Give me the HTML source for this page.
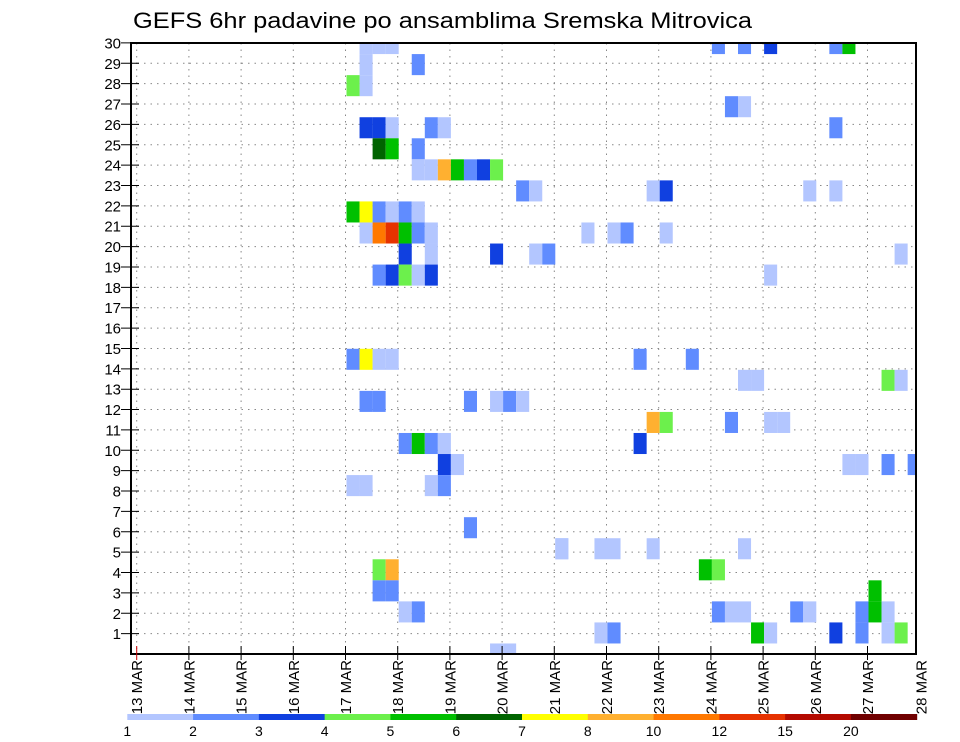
<!DOCTYPE html>
<html><head><meta charset="utf-8"><style>
html,body{margin:0;padding:0;background:#fff;}
svg{display:block;font-family:"Liberation Sans",sans-serif;}
</style></head><body>
<svg id="chart" width="960" height="742" viewBox="0 0 960 742">
<text x="133" y="28" font-size="22" textLength="619" lengthAdjust="spacingAndGlyphs" fill="#000">GEFS 6hr padavine po ansamblima Sremska Mitrovica</text>
<g id="grid"></g>
<g id="cells"></g>
<g id="axes"></g>
<g id="colorbar"></g>
</svg>
<script>
// day tick labels
const dayLabels = ["13 MAR","14 MAR","15 MAR","16 MAR","17 MAR","18 MAR","19 MAR","20 MAR","21 MAR","22 MAR","23 MAR","24 MAR","25 MAR","26 MAR","27 MAR","28 MAR"];
const memberLabels = [1,2,3,4,5,6,7,8,9,10,11,12,13,14,15,16,17,18,19,20,21,22,23,24,25,26,27,28,29,30];
// colour scale
const levels = [1,2,3,4,5,6,7,8,10,12,15,20];
const levelColors = ["#b3c6ff","#608cff","#1040e0","#6cf04c","#00c000","#006400","#ffff00","#ffb030","#ff7800","#e63200","#b40a00","#700000"];
// cells: row index (0..29), 6-hour step from 13 MAR 00z, precipitation value (mm)
const cellRow = [
29,29,29,28,27,28,27,
25,25,25,25,25,24,24,24,
23,23,23,23,23,23,23,
22,22,
21,21,21,21,21,21,
20,20,20,20,20,20,
19,19,19,19,19,
18,18,18,18,18,
14,14,14,14,
12,12,12,12,12,12,
10,10,10,10,
9,9,
8,8,8,8,
6,5,
4,4,3,3,2,2,0,0,
29,29,29,29,29,
26,26,25,
22,22,22,22,
20,20,20,20,
19,18,
14,14,13,13,13,13,
11,11,11,11,11,10,
9,9,9,9,
5,5,5,5,5,
4,4,3,
2,2,2,2,2,2,2,2,
1,1,1,1,1,1,1,1
];
const cellStep = [
17,18,19,17,17,21,16,
17,18,19,22,23,18,19,21,
21,22,23,24,25,26,27,
29,30,
16,17,18,19,20,21,
17,18,19,20,21,22,
20,22,27,30,31,
18,19,20,21,22,
16,17,18,19,
17,18,25,27,28,29,
20,21,22,23,
23,24,
16,17,22,23,
25,32,
18,19,18,19,20,21,27,28,
44,46,48,53,54,
45,46,53,
39,40,51,53,
34,36,37,40,
58,48,
38,42,46,47,57,58,
39,40,45,48,49,38,
54,55,57,59,
35,36,39,46,32,
43,44,56,
44,45,46,50,51,55,56,57,
35,36,47,48,53,55,57,58
];
const cellValue = [
1.5,1.5,1.5,1.5,1.5,2.5,4.5,
3.5,3.5,1.5,2.5,1.5,6.5,5.5,2.5,
1.5,1.5,9,5.5,2.5,3.5,4.5,
2.5,1.5,
5.5,7.5,2.5,1.5,2.5,1.5,
1.5,11,13,5.5,2.5,1.5,
3.5,1.5,3.5,1.5,2.5,
2.5,3.5,4.5,1.5,3.5,
2.5,7.5,1.5,1.5,
2.5,2.5,2.5,1.5,2.5,1.5,
2.5,5.5,2.5,1.5,
3.5,1.5,
1.5,1.5,1.5,2.5,
2.5,1.5,
4.5,9,2.5,2.5,1.5,2.5,1.5,1.5,
2.5,2.5,3.5,2.5,5.5,
2.5,1.5,2.5,
1.5,3.5,1.5,1.5,
1.5,1.5,2.5,1.5,
1.5,1.5,
2.5,2.5,1.5,1.5,4.5,1.5,
9,4.5,2.5,1.5,1.5,3.5,
1.5,1.5,2.5,2.5,
1.5,1.5,1.5,1.5,1.5,
5.5,4.5,5.5,
2.5,1.5,1.5,2.5,1.5,2.5,5.5,1.5,
1.5,2.5,5.5,1.5,3.5,2.5,1.5,4.5
];

const NS="http://www.w3.org/2000/svg";
const PL=131, PR=916, PT=43, PB=654;
const X0=136.7, DAY=52.2;
function xDay(d){return X0+DAY*d;}
function xStep(s){return X0+DAY*s/4+1;}
function yRowCenter(k){return PB-21.05*k;}
function yLabel(m){return PB-20.37*m;}
function colorFor(v){let c=levelColors[0];for(let i=0;i<levels.length;i++){if(v>=levels[i])c=levelColors[i];}return c;}
function mk(tag,attrs,parent){const e=document.createElementNS(NS,tag);for(const k in attrs)e.setAttribute(k,attrs[k]);parent.appendChild(e);return e;}

const grid=document.getElementById('grid');
const cells=document.getElementById('cells');
const axes=document.getElementById('axes');
const cbar=document.getElementById('colorbar');

const defs=mk('defs',{},document.getElementById('chart'));
const cp=mk('clipPath',{id:'plotclip'},defs);
mk('rect',{x:PL,y:PT,width:PR-PL,height:PB-PT},cp);
cells.setAttribute('clip-path','url(#plotclip)');

memberLabels.forEach(m=>{
  const y=yLabel(m);
  const l=mk('line',{x1:PL,x2:PR,y1:y,y2:y,stroke:'#888','stroke-width':1,'stroke-dasharray':'1.5,5'},grid);
  
  
});
dayLabels.forEach((d,i)=>{
  const x=xDay(i); if(x>PR)return;
  const l=mk('line',{x1:x,x2:x,y1:PT,y2:PB,stroke:'#888','stroke-width':1,'stroke-dasharray':'1.5,5'},grid);
  
  
});

for(let i=0;i<cellRow.length;i++){
  const x1=xStep(cellStep[i]), x2=xStep(cellStep[i]+1);
  const yc=yRowCenter(cellRow[i]);
  const r=mk('rect',{x:x1,y:yc-10.525,width:x2-x1,height:21.05,fill:colorFor(cellValue[i])},cells);
  
  
}

const fr=mk('rect',{x:PL,y:PT,width:PR-PL,height:PB-PT,fill:'none',stroke:'#000','stroke-width':2},axes);



memberLabels.forEach(m=>{
  const y=yLabel(m);
  const t=mk('line',{x1:PL-10,x2:PL+8,y1:y,y2:y,stroke:'#000','stroke-width':1},axes);
  
  
  const tx=mk('text',{x:PL-10,y:y+5.5,'font-size':15,'text-anchor':'end',fill:'#000'},axes);
  tx.textContent=m;
  
  
});
dayLabels.forEach((d,i)=>{
  let x=xDay(i);
  if(x<=PR){
    const t=mk('line',{x1:x,x2:x,y1:PB-8,y2:PB+6,stroke:i==0?'#c00':'#000','stroke-width':1},axes);
    
    
  }
  if(x>PR)x=PR+5;
  const tx=mk('text',{x:0,y:0,'font-size':15,'text-anchor':'end',fill:'#000',transform:`translate(${x+5.5},660) rotate(-90)`},axes);
  tx.textContent=d;
  
  
});

const CB0=127.3, CB1=916.7, cbw=(CB1-CB0)/levels.length;
levelColors.forEach((c,i)=>{
  const r=mk('rect',{x:CB0+i*cbw,y:714,width:cbw+0.5,height:6,fill:c},cbar);
  
  
});
levels.forEach((v,i)=>{
  const tx=mk('text',{x:CB0+i*cbw,y:736,'font-size':14,'text-anchor':'middle',fill:'#000'},cbar);
  tx.textContent=v;
  
  
});
</script>
</body></html>
